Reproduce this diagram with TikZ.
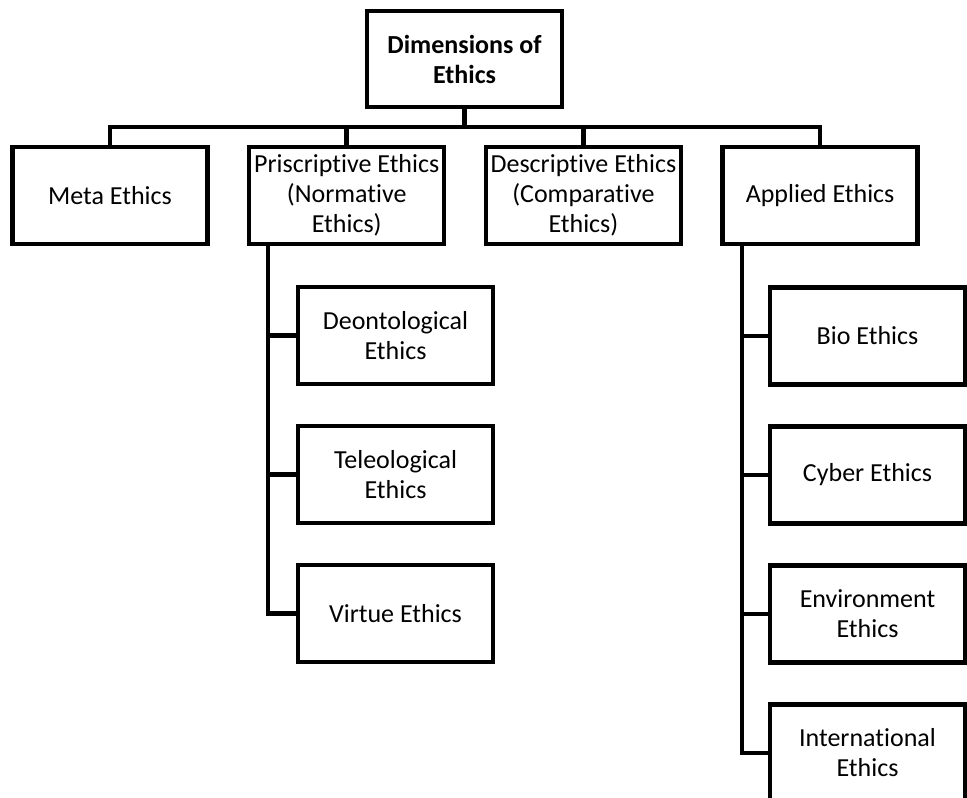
\documentclass[tikz,border=0pt]{standalone}
\usepackage{fontspec}
\setmainfont[Ligatures=NoCommon]{Carlito}
\usetikzlibrary{positioning}

\begin{document}
\begin{tikzpicture}[x=1pt,y=-1pt,on grid,node distance=139pt,
  ethic node/.style={rectangle,draw,line width=4.5pt,minimum width=195pt,
    minimum height=97pt,inner sep=0pt,align=center,
    font=\fontsize{26}{30}\selectfont},
  link/.style={line width=4.5pt}]

  \useasboundingbox (0,0) rectangle (967,798);

  \node[ethic node,minimum height=96pt,font=\fontsize{26}{30}\selectfont\bfseries] (0) at (464.5,59) {Dimensions of\\Ethics};

  \node[ethic node] (1) at (110,195.5) {Meta Ethics};
  \node[ethic node] (2) [right=236.7pt of 1] {Priscriptive Ethics\\(Normative\\Ethics)};
  \node[ethic node] (3) [right=236.7pt of 2] {Descriptive Ethics\\(Comparative\\Ethics)};
  \node[ethic node] (4) [right=236.7pt of 3] {Applied Ethics};

  % normative branch
  \node[ethic node] (5) at (395.5,335.5) {Deontological\\Ethics};
  \node[ethic node] (6) [below=of 5] {Teleological\\Ethics};
  \node[ethic node] (7) [below=of 6] {Virtue Ethics};

  % applied branch
  \node[ethic node] (8) at (867.5,336) {Bio Ethics};
  \node[ethic node] (9) [below=of 8] {Cyber Ethics};
  \node[ethic node] (10) [below=of 9] {Environment\\Ethics};
  \node[ethic node] (11) [below=of 10] {International\\Ethics};

  \coordinate (bar) at (464.5,127);
  \draw[link] (0.south) -- (bar);
  \draw[link] (1.north) -- (1.north |- bar) -- (4.north |- bar) -- (4.north);
  \draw[link] (2.north) -- (2.north |- bar);
  \draw[link] (3.north) -- (3.north |- bar);

  \coordinate (t2) at (268,0);
  \draw[link] (t2 |- 2.south) -- (t2 |- 7.west) -- (7.west);
  \foreach \n in {5,6}
    \draw[link] (t2 |- \n.west) -- (\n.west);

  \coordinate (t4) at (742,0);
  \draw[link] (t4 |- 4.south) -- (t4 |- 11.west) -- (11.west);
  \foreach \n in {8,9,10}
    \draw[link] (t4 |- \n.west) -- (\n.west);
  % \draw[link,dashed] (t4 |- 11.south) -- (11.south);

\end{tikzpicture}
\end{document}
